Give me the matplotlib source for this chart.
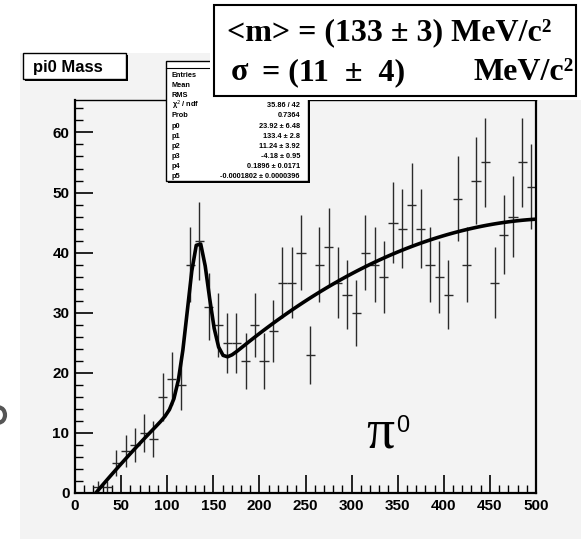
import numpy as np
import matplotlib
matplotlib.use("Agg")
import matplotlib.pyplot as plt
from matplotlib.patches import Rectangle, Ellipse
from matplotlib import font_manager

# histogram "pi0 Mass": 10 MeV bins from 20 to 500
bin_centers = [25, 35, 45, 55, 65, 75, 85, 95, 105, 115, 125, 135, 145, 155,
               165, 175, 185, 195, 205, 215, 225, 235, 245, 255, 265, 275,
               285, 295, 305, 315, 325, 335, 345, 355, 365, 375, 385, 395,
               405, 415, 425, 435, 445, 455, 465, 475, 485, 495]
counts = [1, 1, 5, 7, 8, 10, 9, 16, 19, 18, 38, 42, 31, 28,
          25, 25, 22, 28, 22, 27, 35, 35, 40, 23, 38, 41,
          35, 33, 30, 40, 38, 36, 45, 44, 48, 44, 38, 36,
          33, 49, 38, 52, 55, 35, 43, 46, 55, 51]
errors = [1.0, 1.0, 2.2, 2.6, 2.8, 3.2, 3.0, 4.0, 4.4, 4.2, 6.2, 6.5, 5.6, 5.3,
          5.0, 5.0, 4.7, 5.3, 4.7, 5.2, 5.9, 5.9, 6.3, 4.8, 6.2, 6.4,
          5.9, 5.7, 5.5, 6.3, 6.2, 6.0, 6.7, 6.6, 6.9, 6.6, 6.2, 6.0,
          5.7, 7.0, 6.2, 7.2, 7.4, 5.9, 6.6, 6.8, 7.4, 7.1]
bin_half = 5

# fit parameters (gaus + pol2) from the stats box
fit_par = [23.92, 133.4, 11.24, -4.18, 0.1896, -0.0001802]
fit_range = (20, 500)

stat_labels = ["Entries", "Mean", "RMS", "\u03c7$^{2}$ / ndf", "Prob",
               "p0", "p1", "p2", "p3", "p4", "p5"]
stat_values = ["", "", "", "35.86 / 42", "0.7364", "23.92 \u00b1 6.48",
               "133.4 \u00b1 2.8", "11.24 \u00b1 3.92", "-4.18 \u00b1 0.95",
               "0.1896 \u00b1 0.0171", "-0.0001802 \u00b1 0.0000396"]

x_ticks = [0, 50, 100, 150, 200, 250, 300, 350, 400, 450, 500]
y_ticks = [0, 10, 20, 30, 40, 50, 60]

W, H = 581, 541
fig = plt.figure(figsize=(W / 100, H / 100), dpi=100)
fig.patch.set_facecolor("white")
bg = "#f3f3f3"

try:
    font_manager.findfont("Liberation Sans Narrow", fallback_to_default=False)
    narrow = "Liberation Sans Narrow"
    tick_size = 12
except ValueError:
    narrow = "Liberation Sans"
    tick_size = 11


def fx(px):
    return px / W


def fy(py):
    return 1 - py / H


def box(x0, y0, x1, y1, **kw):
    r = Rectangle((fx(x0), fy(y1)), fx(x1) - fx(x0), fy(y0) - fy(y1),
                  transform=fig.transFigure, **kw)
    fig.add_artist(r)
    return r


# grey pad
box(20, 53, 581, 539, facecolor=bg, edgecolor="none", zorder=0)
# cut-off glyph remnant at the left edge of the slide
fig.add_artist(Ellipse((fx(-1), fy(415)), fx(12), 15 / H, facecolor="none",
                       edgecolor="#555555", lw=3, transform=fig.transFigure))

ax = fig.add_axes([fx(75), fy(493), fx(536) - fx(75), fy(100) - fy(493)])
ax.set_facecolor(bg)
ax.set_xlim(0, 500)
ax.set_ylim(0, 65.4)

ax.errorbar(bin_centers, counts, xerr=bin_half, yerr=errors, fmt="none",
            ecolor="#2a2a2a", elinewidth=1.0, capsize=0, zorder=2)

p = fit_par
xf = np.linspace(fit_range[0], fit_range[1], 100)
yf = p[0] * np.exp(-0.5 * ((xf - p[1]) / p[2]) ** 2) + p[3] + p[4] * xf + p[5] * xf ** 2
ax.plot(xf, yf, color="black", lw=2.6, zorder=3)

ax.set_xticks(x_ticks)
ax.set_yticks(y_ticks)
ax.set_xticks(np.arange(0, 501, 10), minor=True)
ax.set_yticks(np.arange(0, 66, 2), minor=True)
ax.tick_params(which="major", direction="in", length=13, width=1.2)
ax.tick_params(which="minor", direction="in", length=6, width=1.0)
ax.tick_params(axis="x", pad=4)
ax.tick_params(axis="y", pad=4)
for lab in ax.get_xticklabels() + ax.get_yticklabels():
    lab.set_family(narrow)
    lab.set_fontweight("bold")
    lab.set_fontsize(tick_size)
for s in ax.spines.values():
    s.set_linewidth(1.6)
ax.spines["top"].set_linewidth(1.0)

# pi0 label
fig.text(fx(366), fy(447), "\u03c0", fontsize=40,
         family="Liberation Serif", ha="left", va="baseline")
fig.text(fx(396), fy(432), "0", fontsize=17,
         family="Liberation Sans", ha="left", va="baseline")

# title box
box(25, 55, 128, 81, facecolor="black", edgecolor="none", zorder=4)
box(23, 53, 126, 79, facecolor="white", edgecolor="black", lw=1.0, zorder=5)
fig.text(fx(33), fy(72), "pi0 Mass", family=narrow, fontweight="bold",
         fontsize=12, zorder=6)

# stats box
box(168, 63, 310, 183, facecolor="black", edgecolor="none", zorder=4)
box(166, 61, 308, 181, facecolor="white", edgecolor="black", lw=1.0, zorder=5)
fig.add_artist(plt.Line2D([fx(166), fx(308)], [fy(68), fy(68)],
                          transform=fig.transFigure, color="black", lw=0.8,
                          zorder=6))
for i, (lab, val) in enumerate(zip(stat_labels, stat_values)):
    yy = fy(77 + 10.1 * i)
    fig.text(fx(172), yy, lab, family=narrow, fontweight="bold", fontsize=5.3,
             zorder=6)
    fig.text(fx(300), yy, val, family=narrow, fontweight="bold",
             fontsize=5.3, ha="right", zorder=6)

# result box
box(210, 0, 581, 100, facecolor="white", edgecolor="none", zorder=7)
box(214, 5, 576, 96, facecolor="white", edgecolor="black", lw=1.5, zorder=8)
serif = dict(family="Liberation Serif", fontweight="bold", fontsize=23,
             zorder=9)
fig.text(fx(227), fy(40), "<m> = (133 \u00b1 3) MeV/c\u00b2", **serif)
fig.text(fx(231), fy(80), "\u03c3", **serif)
fig.text(fx(262), fy(80), "= (11  \u00b1  4)", **serif)
fig.text(fx(574), fy(80), "MeV/c\u00b2", ha="right", **serif)

fig.savefig("out.png", dpi=100)
